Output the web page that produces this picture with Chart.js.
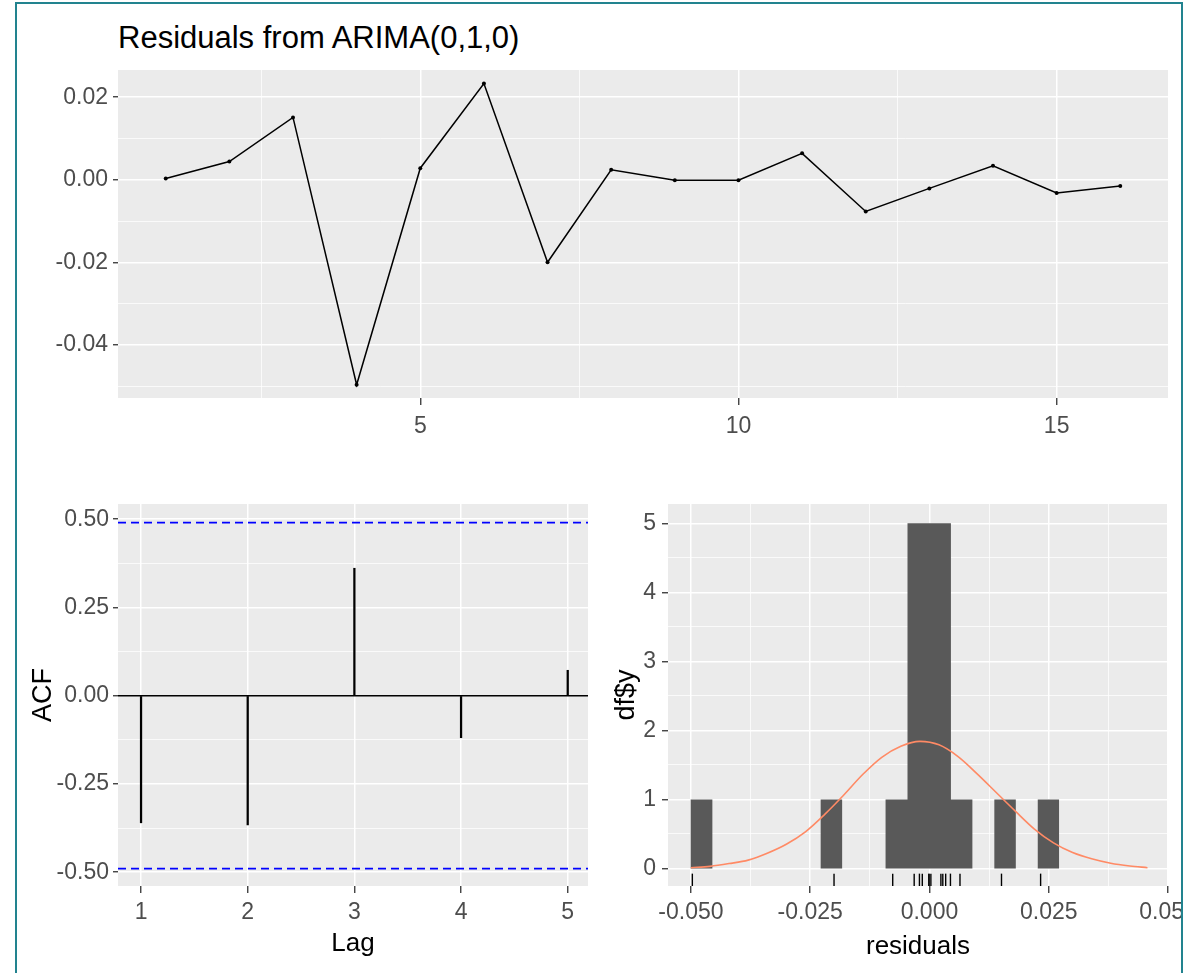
<!DOCTYPE html>
<html>
<head>
<meta charset="utf-8">
<script src="https://cdn.jsdelivr.net/npm/chart.js@4/dist/chart.umd.min.js"></script>
<style>
  body { margin: 0; background: #fff; }
  #page { position: relative; width: 1191px; height: 973px; overflow: hidden; background: #fff; }
  #frame { position: absolute; left: 15px; top: 2px; width: 1164px; height: 1000px;
           border: 2px solid #22838f; pointer-events: none; z-index: 5; }
  canvas { position: absolute; }
  #title { position: absolute; left: 118px; top: 20px; line-height: 31px; white-space: nowrap;
           font: 31px "Liberation Sans", Arial, sans-serif; color: #000; }
</style>
</head>
<body>
<div id="page">
  <div id="title">Residuals from ARIMA(0,1,0)</div>
  <canvas id="resid" width="1170" height="400" style="left:18px;top:60px"></canvas>
  <canvas id="acf" width="582" height="479" style="left:18px;top:494px"></canvas>
  <canvas id="hist" width="585" height="479" style="left:596px;top:494px"></canvas>
  <div id="frame"></div>
</div>
<script>
// ─── Data ────────────────────────────────────────────────────────────────────

const timeIndex = [1, 2, 3, 4, 5, 6, 7, 8, 9, 10, 11, 12, 13, 14, 15, 16];
const residuals = [0.0003, 0.0044, 0.0151, -0.0497, 0.0028, 0.0233, -0.0200, 0.0024,
                   -0.0001, -0.0001, 0.0064, -0.0077, -0.0021, 0.0034, -0.0032, -0.0015];

const residXTicks  = [2.5, 5, 7.5, 10, 12.5, 15];
const residXMajor  = [5, 10, 15];
const residXLabels = ['5', '10', '15'];
const residYTicks  = [-0.05, -0.04, -0.03, -0.02, -0.01, 0, 0.01, 0.02];
const residYMajor  = [-0.04, -0.02, 0, 0.02];
const residYLabels = ['-0.04', '-0.02', '0.00', '0.02'];

const lags      = [1, 2, 3, 4, 5];
const acfValues = [-0.360, -0.366, 0.361, -0.119, 0.072];
const ciBounds  = [0.49, -0.49];
const acfXTicks  = [1, 2, 3, 4, 5];
const acfXLabels = ['1', '2', '3', '4', '5'];
const acfYTicks  = [-0.5, -0.375, -0.25, -0.125, 0, 0.125, 0.25, 0.375, 0.5];
const acfYMajor  = [-0.5, -0.25, 0, 0.25, 0.5];
const acfYLabels = ['-0.50', '-0.25', '0.00', '0.25', '0.50'];

const binEdges  = [-0.0501, -0.0455, -0.0410, -0.0364, -0.0319, -0.0273, -0.0228, -0.0183, -0.0137,
                   -0.0092, -0.0046, -0.0001, 0.0045, 0.0090, 0.0136, 0.0181, 0.0227, 0.0272];
const binCounts = [1, 0, 0, 0, 0, 0, 1, 0, 0, 1, 5, 5, 1, 0, 1, 0, 1];

const densityX = [-0.050, -0.046, -0.042, -0.038, -0.034, -0.030, -0.026, -0.022, -0.018,
                  -0.014, -0.010, -0.006, -0.002, 0.002, 0.006, 0.010, 0.014, 0.018,
                  0.022, 0.026, 0.030, 0.034, 0.038, 0.042, 0.0457];
const densityY = [0.01, 0.03, 0.07, 0.12, 0.22, 0.35, 0.53, 0.78, 1.06,
                  1.36, 1.61, 1.77, 1.84, 1.79, 1.62, 1.37, 1.10, 0.83,
                  0.57, 0.37, 0.23, 0.14, 0.075, 0.035, 0.01];
const rugLevel = -0.17;

const histXTicks  = [-0.05, -0.0375, -0.025, -0.0125, 0, 0.0125, 0.025, 0.0375, 0.05];
const histXMajor  = [-0.05, -0.025, 0, 0.025, 0.05];
const histXLabels = ['-0.050', '-0.025', '0.000', '0.025', '0.050'];
const histYTicks  = [0, 0.5, 1, 1.5, 2, 2.5, 3, 3.5, 4, 4.5, 5];
const histYMajor  = [0, 1, 2, 3, 4, 5];
const histYLabels = ['0', '1', '2', '3', '4', '5'];

// ─── Shared styling ──────────────────────────────────────────────────────────

const FONT = '"Liberation Sans", Arial, sans-serif';
const tickFont = { family: FONT, size: 23 };

const panelBg = {
  id: 'panelBg',
  beforeDraw(chart) {
    const { ctx, chartArea: a } = chart;
    ctx.save();
    ctx.fillStyle = '#ebebeb';
    ctx.fillRect(a.left, a.top, a.right - a.left, a.bottom - a.top);
    ctx.restore();
  },
};

const ciLines = {
  id: 'ciLines',
  afterDatasetsDraw(chart) {
    const { ctx, chartArea: a, scales: { y } } = chart;
    ctx.save();
    ctx.strokeStyle = '#0000ff';
    ctx.lineWidth = 1.8;
    ctx.setLineDash([8, 5]);
    ciBounds.forEach(v => {
      const py = y.getPixelForValue(v);
      ctx.beginPath();
      ctx.moveTo(a.left, py);
      ctx.lineTo(a.right, py);
      ctx.stroke();
    });
    ctx.restore();
  },
};

// ggplot-like axis: white major/minor grid, dark tick marks on majors only
function axis({ min, max, ticks, major, labels, size, tickLen, pad, title, zeroLine }) {
  const isMajor = c => c.tick && major.includes(c.tick.value);
  const isZero = c => zeroLine && c.tick && c.tick.value === 0;
  return {
    type: 'linear', min, max, offset: false,
    border: { display: false },
    grid: {
      offset: false,
      color: c => isZero(c) ? '#000' : '#fff',
      lineWidth: c => isZero(c) ? 1.5 : (isMajor(c) ? 1.5 : 0.75),
      tickLength: tickLen,
      tickWidth: 1.3,
      tickColor: c => isMajor(c) ? '#333' : 'rgba(0,0,0,0)',
    },
    ticks: {
      autoSkip: false, maxRotation: 0, minRotation: 0, padding: pad,
      color: '#4d4d4d', font: tickFont,
      callback: v => { const i = major.indexOf(v); return i < 0 ? '' : labels[i]; },
    },
    title: title || { display: false },
    afterBuildTicks: s => { s.ticks = ticks.map(v => ({ value: v })); },
    afterFit: s => {
      if (s.isHorizontal()) s.height = size; else s.width = size;
      s.paddingLeft = s.paddingRight = s.paddingTop = s.paddingBottom = 0;
    },
  };
}

const base = {
  responsive: false,
  animation: false,
  events: [],
  plugins: { legend: { display: false }, tooltip: { enabled: false } },
};

// ─── Residual time plot ──────────────────────────────────────────────────────

new Chart(document.getElementById('resid'), {
  type: 'line',
  data: {
    datasets: [{
      data: timeIndex.map((x, i) => ({ x, y: residuals[i] })),
      borderColor: '#000', borderWidth: 1.5, tension: 0,
      pointRadius: 2, pointBackgroundColor: '#000', pointBorderWidth: 0,
    }],
  },
  options: {
    ...base,
    layout: { autoPadding: false, padding: { left: 0, top: 10, right: 20, bottom: 0 } },
    scales: {
      x: axis({ min: 0.25, max: 16.75, ticks: residXTicks, major: residXMajor, labels: residXLabels,
                size: 62, tickLen: 7, pad: 8 }),
      y: axis({ min: -0.0529, max: 0.0266, ticks: residYTicks, major: residYMajor, labels: residYLabels,
                size: 100, tickLen: 5, pad: 5 }),
    },
  },
  plugins: [panelBg],
});

// ─── ACF ─────────────────────────────────────────────────────────────────────

new Chart(document.getElementById('acf'), {
  type: 'bar',
  data: {
    datasets: [{
      data: lags.map((x, i) => ({ x, y: acfValues[i] })),
      backgroundColor: '#000', borderWidth: 0, barThickness: 1.6, grouped: false,
    }],
  },
  options: {
    ...base,
    layout: { autoPadding: false, padding: { left: 0, top: 10, right: 12, bottom: 0 } },
    scales: {
      x: axis({ min: 0.784, max: 5.19, ticks: acfXTicks, major: acfXTicks, labels: acfXLabels,
                size: 87, tickLen: 7, pad: 6,
                title: { display: true, text: 'Lag', color: '#000',
                         font: { family: FONT, size: 26 }, padding: { top: 0, bottom: 14 } } }),
      y: axis({ min: -0.539, max: 0.543, ticks: acfYTicks, major: acfYMajor, labels: acfYLabels,
                size: 100, tickLen: 5, pad: 4, zeroLine: true,
                title: { display: true, text: 'ACF', color: '#000',
                         font: { family: FONT, size: 27 }, padding: { top: 9, bottom: 0 } } }),
    },
  },
  plugins: [panelBg, ciLines],
});

// ─── Histogram of residuals ──────────────────────────────────────────────────

new Chart(document.getElementById('hist'), {
  type: 'line',
  data: {
    datasets: [
      {
        order: 2,
        data: binEdges.map((x, i) => ({ x, y: i < binCounts.length ? binCounts[i] : 0 })),
        stepped: true, fill: 'origin', backgroundColor: '#595959',
        borderColor: 'rgba(0,0,0,0)', borderWidth: 0, pointRadius: 0,
      },
      {
        order: 0,
        data: densityX.map((x, i) => ({ x, y: densityY[i] })),
        borderColor: '#ff8a65', borderWidth: 1.6, pointRadius: 0,
        cubicInterpolationMode: 'monotone', fill: false,
      },
      {
        order: 1,
        data: residuals.map(x => ({ x, y: rugLevel })),
        showLine: false, pointStyle: 'line', rotation: 90, pointRadius: 6.5,
        pointBorderColor: '#000', pointBorderWidth: 1.4,
      },
    ],
  },
  options: {
    ...base,
    layout: { autoPadding: false, padding: { left: 0, top: 10, right: 13, bottom: 0 } },
    scales: {
      x: axis({ min: -0.0548, max: 0.05, ticks: histXTicks, major: histXMajor, labels: histXLabels,
                size: 87, tickLen: 7, pad: 6,
                title: { display: true, text: 'residuals', color: '#000',
                         font: { family: FONT, size: 26 }, padding: { top: 0, bottom: 11 } } }),
      y: axis({ min: -0.255, max: 5.28, ticks: histYTicks, major: histYMajor, labels: histYLabels,
                size: 72, tickLen: 6, pad: 6,
                title: { display: true, text: 'df$y', color: '#000',
                         font: { family: FONT, size: 27 }, padding: { top: 14, bottom: 0 } } }),
    },
  },
  plugins: [panelBg],
});
</script>
</body>
</html>
